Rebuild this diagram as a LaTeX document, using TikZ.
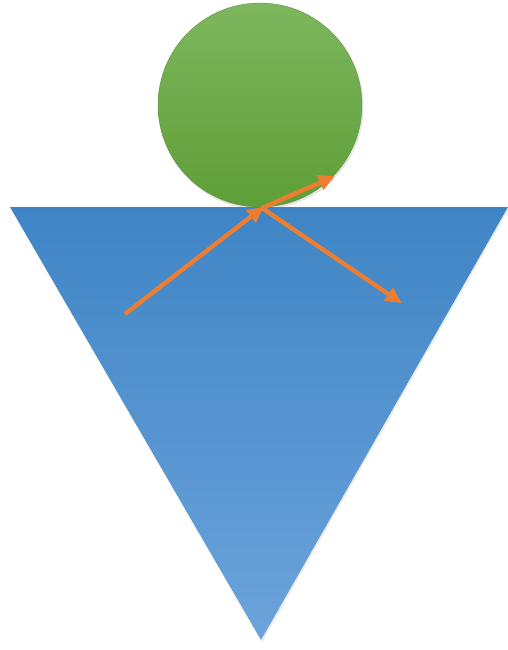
\documentclass[tikz,border=0pt]{standalone}
\usetikzlibrary{arrows.meta}
\definecolor{gtop}{HTML}{7DB75E}
\definecolor{gbot}{HTML}{5E9E37}
\definecolor{btop}{HTML}{3F85C5}
\definecolor{bbot}{HTML}{6CA3DB}
\definecolor{orng}{HTML}{ED7D31}
\tikzset{
  ray/.style={draw=orng, line width=4.4pt, -{Triangle[length=16pt,width=15pt]}, shorten >=-2pt},
}
\begin{document}
\begin{tikzpicture}[x=1pt,y=-1pt]
\useasboundingbox (0,0) rectangle (508,650);
% soft shadows
\fill[black!8] (11,209) -- (509,209) -- (262,642) -- cycle;
\fill[black!10] (261,107) circle (102.5);
% triangle
\shade[top color=btop, bottom color=bbot] (10,207) coordinate (tl) -- (508,207) coordinate (tr) -- (261,640) coordinate (ap) -- cycle;
% ball
\node[circle, minimum size=204pt, inner sep=0pt, top color=gtop, bottom color=gbot, draw=gbot!90!black, line width=0.3pt] (ball) at (260,105) {};
% rays
\coordinate (src) at (125,314);
\coordinate (hit) at (262,208);
\coordinate (refl) at (333,177);
\coordinate (refr) at (400,302);
\draw[ray] (src) -- (hit);
\draw[ray] (hit) -- (refl);
\draw[ray] (hit) -- (refr);
\end{tikzpicture}
\end{document}
